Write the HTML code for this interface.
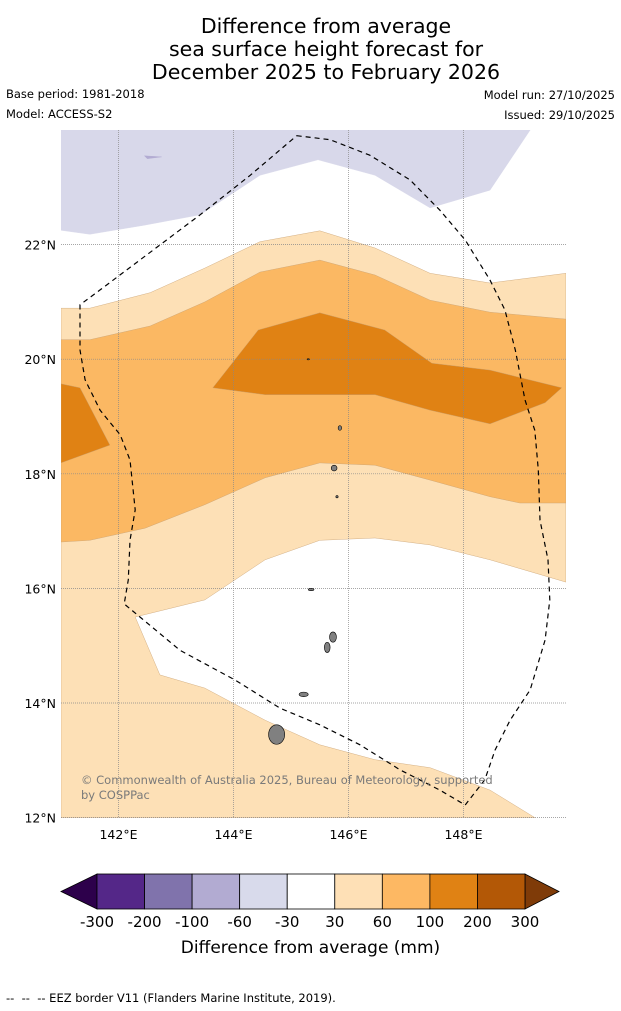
<!DOCTYPE html>
<html><head><meta charset="utf-8">
<style>
body{margin:0;background:#fff;font-family:"DejaVu Sans","Liberation Sans",sans-serif;}
#wrap{position:relative;width:621px;height:1011px;overflow:hidden;}
.t{position:absolute;white-space:nowrap;}
svg text{font-family:"DejaVu Sans","Liberation Sans",sans-serif;}
</style></head>
<body>
<div id="wrap">
<div class="t" style="left:0;width:652px;top:15px;text-align:center;font-size:20.5px;line-height:23px;color:#000;">Difference from average<br>sea surface height forecast for<br>December 2025 to February 2026</div>
<div class="t" style="left:6px;top:87px;font-size:11.5px;">Base period: 1981-2018</div>
<div class="t" style="left:6px;top:107px;font-size:11.5px;">Model: ACCESS-S2</div>
<div class="t" style="right:6px;top:88px;font-size:11.5px;">Model run: 27/10/2025</div>
<div class="t" style="right:6px;top:108px;font-size:11.5px;">Issued: 29/10/2025</div>
<svg id="map" width="621" height="1011" style="position:absolute;left:0;top:0"></svg>
<div class="t" style="left:81px;top:773px;font-size:11.5px;color:#7a7a7a;line-height:15px;">© Commonwealth of Australia 2025, Bureau of Meteorology, supported<br>by COSPPac</div>
<div class="t" style="left:0;width:621px;top:938px;text-align:center;font-size:17px;">Difference from average (mm)</div>
<div class="t" style="left:6px;top:991px;font-size:11.5px;">--&nbsp; --&nbsp; -- EEZ border V11 (Flanders Marine Institute, 2019).</div>
</div>
<script>
const lonTicks=[142,144,146,148];
const latTicks=[12,14,16,18,20,22];
const lavender=[[141,24],[149.16,24],[148.46,22.95],[147.42,22.64],[146.46,23.21],[145.47,23.48],[144.46,23.21],[143.42,22.52],[142.46,22.34],[141.5,22.18],[141,22.25]];
const lavBlob=[[142.45,23.55],[142.75,23.53],[142.5,23.5]];
const light=[[141,20.89],[141.5,20.89],[142.55,21.16],[143.5,21.59],[144.46,22.05],[145.5,22.24],[146.46,21.94],[147.42,21.5],[148.46,21.33],[149.78,21.5],[149.78,16.11],[148.46,16.5],[147.42,16.76],[146.46,16.88],[145.5,16.84],[144.55,16.5],[143.5,15.8],[142.29,15.5],[142.72,14.49],[143.5,14.26],[144.55,13.7],[145.5,13.27],[146.46,13.01],[147.42,12.87],[148.46,12.48],[149.24,12],[141,12]];
const mid=[[141,20.34],[141.5,20.34],[142.55,20.58],[143.5,21.0],[144.46,21.52],[145.5,21.73],[146.46,21.47],[147.42,21.03],[148.46,20.82],[149.78,20.7],[149.78,17.49],[148.98,17.49],[148.46,17.6],[147.42,17.89],[146.46,18.15],[145.5,18.19],[144.55,17.93],[143.5,17.46],[142.46,17.05],[141.5,16.84],[141,16.81]];
const high=[[143.64,19.5],[144.43,20.51],[145.5,20.81],[146.63,20.51],[147.45,19.93],[148.46,19.81],[149.71,19.5],[149.42,19.24],[148.46,18.87],[147.42,19.11],[146.46,19.38],[145.5,19.38],[144.55,19.38]];
const highLeft=[[141,19.57],[141.33,19.5],[141.85,18.5],[141,18.19]];
const eez=[[145.1,23.9],[145.68,23.83],[146.37,23.56],[147.07,23.13],[147.59,22.6],[148.03,22.08],[148.46,21.38],[148.72,20.86],[148.9,20.16],[149.07,19.29],[149.24,18.76],[149.3,18.07],[149.33,17.19],[149.47,16.5],[149.5,15.8],[149.42,15.1],[149.16,14.23],[148.81,13.7],[148.55,13.18],[148.37,12.66],[148.03,12.22],[147.59,12.48],[146.9,12.83],[146.2,13.27],[145.5,13.62],[144.81,13.91],[144.03,14.4],[143.07,14.92],[142.1,15.73],[142.17,16.15],[142.2,16.84],[142.29,17.37],[142.2,18.24],[142.03,18.68],[141.68,19.11],[141.42,19.64],[141.33,20.16],[141.33,20.95],[141.68,21.21],[142.37,21.73],[143.42,22.52],[144.29,23.21],[145.1,23.9]];
const islands=[[144.75,13.45,0.14,0.17],[145.22,14.15,0.08,0.04],[145.63,14.97,0.05,0.09],[145.73,15.15,0.06,0.09],[145.35,15.98,0.05,0.02],[145.85,18.8,0.03,0.04],[145.75,18.1,0.05,0.05],[145.8,17.6,0.02,0.02],[145.3,20.0,0.02,0.01]];
const cbTicks=["-300","-200","-100","-60","-30","30","60","100","200","300"];
const cbColors=["#542788","#8073ac","#b2abd2","#d8daeb","#ffffff","#fee0b6","#fdb863","#e08214","#b35806"];
const X=l=>61+(l-141)*57.5, Y=l=>130+(24-l)*57.3;
const svg=document.getElementById('map');const NS='http://www.w3.org/2000/svg';
function mk(t,a){const e=document.createElementNS(NS,t);for(const k in a)e.setAttribute(k,a[k]);svg.appendChild(e);return e;}
const pts=a=>a.map(p=>X(p[0]).toFixed(1)+','+Y(p[1]).toFixed(1)).join(' ');
const cp=mk('clipPath',{id:'c'});const r=document.createElementNS(NS,'rect');r.setAttribute('x',61);r.setAttribute('y',130);r.setAttribute('width',505);r.setAttribute('height',688);cp.appendChild(r);
const g=mk('g',{'clip-path':'url(#c)'});
function poly(a,fill,name,stroke){const e=document.createElementNS(NS,'polygon');e.setAttribute('points',pts(a));e.setAttribute('fill',fill);e.setAttribute('stroke',stroke||'#c8a070');e.setAttribute('stroke-width','0.4');


g.appendChild(e);}
poly(lavender,'#d8d8ea','contour-lavender','#d8d8ea');
poly(lavBlob,'#b2abd2','contour-lavender-blob','#b2abd2');
poly(light,'#fde0b6','contour-30-60');
poly(mid,'#fbb863','contour-60-100');
poly(high,'#e08214','contour-100-200');
poly(highLeft,'#e08214','contour-100-200-west');
lonTicks.forEach(v=>{const l=mk('line',{x1:X(v),x2:X(v),y1:130,y2:818,stroke:'#888','stroke-width':0.7,'stroke-dasharray':'1,1'});


const t=mk('text',{x:X(v),y:839,'text-anchor':'middle','font-size':12.5});t.textContent=v+'°E';

});
latTicks.forEach(v=>{const l=mk('line',{x1:61,x2:566,y1:Y(v),y2:Y(v),stroke:'#888','stroke-width':0.7,'stroke-dasharray':'1,1'});


const t=mk('text',{x:56,y:Y(v)+5,'text-anchor':'end','font-size':12.5});t.textContent=v+'°N';

});
islands.forEach(i=>{const e=mk('ellipse',{cx:X(i[0]),cy:Y(i[1]),rx:i[2]*57.5,ry:i[3]*57.3,fill:'#808080',stroke:'#000','stroke-width':0.6});

});
const ez=mk('polyline',{points:pts(eez),fill:'none',stroke:'#000','stroke-width':1.2,'stroke-dasharray':'5,4'});


const c0=97,c1=525,w=(c1-c0)/cbColors.length,y0=874,y1=909;
const lt=mk('polygon',{points:`61,${(y0+y1)/2} ${c0},${y0} ${c0},${y1}`,fill:'#2d004b',stroke:'#000','stroke-width':0.8});


const rt=mk('polygon',{points:`559,${(y0+y1)/2} ${c1},${y0} ${c1},${y1}`,fill:'#7f3b08',stroke:'#000','stroke-width':0.8});


cbColors.forEach((c,i)=>{const e=mk('rect',{x:c0+i*w,y:y0,width:w,height:y1-y0,fill:c,stroke:'#000','stroke-width':0.8});

});
cbTicks.forEach((s,i)=>{const t=mk('text',{x:c0+i*w,y:927,'text-anchor':'middle','font-size':15});t.textContent=s;

});
</script>
</body></html>
